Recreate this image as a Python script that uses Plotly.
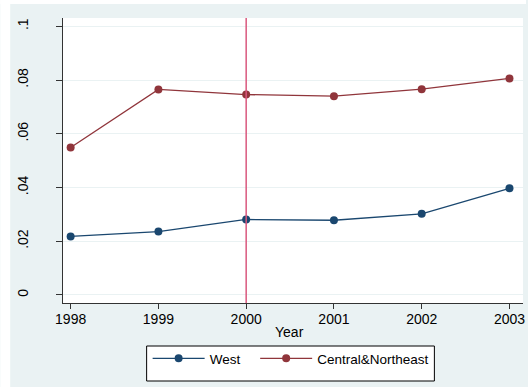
import plotly.graph_objects as go

# Series by year
years = [1998, 1999, 2000, 2001, 2002, 2003]
west = [0.0218, 0.0236, 0.0281, 0.0278, 0.0302, 0.0397]
central_northeast = [0.0549, 0.0765, 0.0746, 0.0740, 0.0766, 0.0806]

# Axis ticks
x_ticks = years
y_ticks = [0, 0.02, 0.04, 0.06, 0.08, 0.1]
y_tick_labels = ["0", ".02", ".04", ".06", ".08", ".1"]

# Reference year marked with a vertical line
policy_year = 2000

W, H = 528, 387
L, R, T, B = 63, 3, 18, 84
PW, PH = W - L - R, H - T - B

FONT = "Liberation Sans, Arial, sans-serif"
BG = "#EAF2F3"
NAVY = "#1A476F"
MAROON = "#90353B"


def px_x(x):
    return (x - L) / PW


def px_y(y):
    return (H - B - y) / PH


fig = go.Figure()
fig.add_trace(go.Scatter(
    x=years, y=west, name="West", mode="lines+markers",
    line=dict(color=NAVY, width=1.3),
    marker=dict(color=NAVY, size=8),
    legend="legend",
))
fig.add_trace(go.Scatter(
    x=years, y=central_northeast, name="Central&Northeast", mode="lines+markers",
    line=dict(color=MAROON, width=1.3),
    marker=dict(color=MAROON, size=8),
    legend="legend2",
))

fig.add_vline(x=policy_year, line=dict(color="#D9587E", width=1.5), layer="above")

shapes = [
    # white margin strips outside the graph region
    dict(type="rect", xref="paper", yref="paper", layer="below",
         x0=px_x(0), x1=px_x(10), y0=px_y(H), y1=px_y(0),
         fillcolor="white", line=dict(width=0)),
    dict(type="rect", xref="paper", yref="paper", layer="below",
         x0=px_x(0), x1=px_x(W), y0=px_y(4), y1=px_y(0),
         fillcolor="white", line=dict(width=0)),
    # legend frame
    dict(type="rect", xref="paper", yref="paper", layer="below",
         x0=px_x(147), x1=px_x(436), y0=px_y(381), y1=px_y(346),
         fillcolor="white", line=dict(color="black", width=1)),
]
for s in shapes:
    fig.add_shape(**s)

fig.add_annotation(
    text="Year", xref="paper", yref="paper", x=px_x(290), y=px_y(332),
    xanchor="center", yanchor="middle", showarrow=False,
    font=dict(family=FONT, size=14, color="black"),
)

legend_common = dict(
    orientation="h", xanchor="left", yanchor="top",
    bgcolor="rgba(0,0,0,0)", borderwidth=0,
    itemwidth=52, font=dict(family=FONT, size=13.5),
)

fig.update_layout(
    width=W, height=H,
    margin=dict(l=L, r=R, t=T, b=B, pad=0),
    paper_bgcolor=BG, plot_bgcolor="white",
    font=dict(family=FONT, size=14, color="black"),
    showlegend=True,
    legend=dict(x=px_x(148), y=px_y(343), **legend_common),
    legend2=dict(x=px_x(256), y=px_y(343), **legend_common),
    xaxis=dict(
        range=[1997.913, 2003.154], tickmode="array", tickvals=x_ticks,
        showgrid=False, zeroline=False,
        showline=True, linecolor="#333333", linewidth=1,
        ticks="outside", ticklen=5, tickcolor="#333333",
        ticklabelstandoff=-2,
        tickfont=dict(family=FONT, size=14),
    ),
    yaxis=dict(
        range=[-0.0030, 0.1031], tickmode="array", tickvals=y_ticks,
        ticktext=y_tick_labels, tickangle=-90,
        showgrid=True, gridcolor=BG, gridwidth=1, zeroline=False,
        showline=True, linecolor="#333333", linewidth=1,
        ticks="outside", ticklen=6, tickcolor="#333333",
        ticklabelstandoff=22,
        tickfont=dict(family=FONT, size=14),
    ),
)

fig.write_html("out.html")
